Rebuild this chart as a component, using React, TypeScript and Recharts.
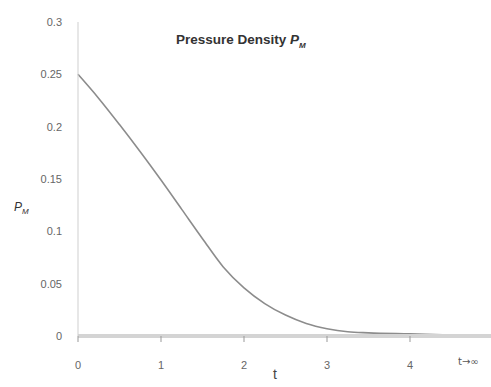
import { LineChart, Line, XAxis, YAxis } from 'recharts'

const tValues = [0, 0.25, 0.5, 0.75, 1, 1.25, 1.5, 1.75, 2, 2.25, 2.5, 2.75, 3, 3.25, 3.5, 4, 4.5, 5]
const pmValues = [0.25, 0.227, 0.202, 0.176, 0.149, 0.121, 0.093, 0.066, 0.046, 0.031, 0.02, 0.012, 0.007, 0.004, 0.003, 0.002, 0.001, 0.0005]
const xTicks = [0, 1, 2, 3, 4]
const yTicks = [0, 0.05, 0.1, 0.15, 0.2, 0.25, 0.3]

const data = tValues.map((t, i) => ({ t, pm: pmValues[i] }))

const font = "'Liberation Sans Narrow', 'Liberation Sans', Arial, sans-serif"

export default function App() {
  return (
    <div style={{ position: 'absolute', left: 0, top: 0, width: 491, height: 387, overflow: 'hidden', background: '#fff', fontFamily: font }}>
      <LineChart width={493} height={387} data={data} margin={{ top: 22, right: 0, bottom: 0, left: 0 }}>
        <XAxis
          dataKey="t"
          type="number"
          domain={[0, 5]}
          ticks={xTicks}
          stroke="#d4d4d4"
          strokeWidth={4}
          tickLine={{ stroke: '#999', strokeWidth: 1 }}
          tickSize={6}
          tickMargin={19}
          tick={{ fill: '#666', fontSize: 11, fontFamily: font }}
          height={51}
        />
        <YAxis
          type="number"
          domain={[0, 0.3]}
          ticks={yTicks}
          stroke="#cfcfcf"
          tickLine={false}
          tickSize={0}
          tickMargin={16}
          tick={{ fill: '#666', fontSize: 11, fontFamily: font }}
          width={78}
        />
        <Line type="monotone" dataKey="pm" stroke="#8c8c8c" strokeWidth={1.6} dot={false} isAnimationActive={false} />
      </LineChart>
      <div style={{ position: 'absolute', left: 176, top: 32, fontSize: 13.5, fontWeight: 'bold', color: '#333' }}>
        Pressure Density <i>P</i><sub style={{ fontSize: 8, fontStyle: 'italic' }}>M</sub>
      </div>
      <div style={{ position: 'absolute', left: 14, top: 200, fontSize: 12, color: '#333', fontStyle: 'italic' }}>
        P<sub style={{ fontSize: 8 }}>M</sub>
      </div>
      <div style={{ position: 'absolute', left: 273, top: 366, fontSize: 14, color: '#444' }}>t</div>
      <div style={{ position: 'absolute', left: 458, top: 356, fontSize: 10, color: '#555', fontFamily: "'DejaVu Sans', sans-serif" }}>t→∞</div>
    </div>
  )
}
